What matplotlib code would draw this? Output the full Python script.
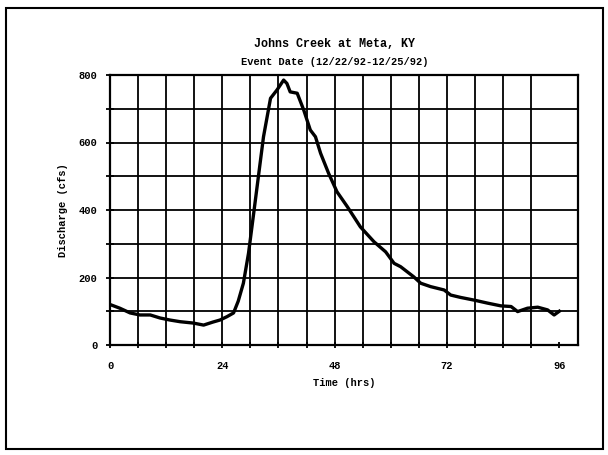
import matplotlib
matplotlib.use("Agg")
import matplotlib.pyplot as plt
from matplotlib.patches import Rectangle

# Hydrograph for Johns Creek at Meta, KY (event 12/22/92 - 12/25/92)
time_hrs = [0, 2.1, 4.3, 6.4, 8.6, 10.7, 12.8, 15.0, 17.8, 20.0, 22.0, 23.5,
            25.0, 26.4, 27.4, 28.5, 29.6, 30.7, 31.8, 32.8, 34.3, 35.7, 37.1,
            37.8, 38.5, 40.0, 41.4, 42.8, 43.9, 45.0, 46.7, 48.5, 50.7, 53.5,
            56.4, 58.9, 60.7, 62.1, 64.9, 66.4, 68.5, 71.4, 72.8, 74.9, 77.8,
            80.7, 83.5, 85.7, 87.1, 89.2, 91.4, 93.5, 94.9, 96.0]
discharge_cfs = [120, 109, 95, 89, 89, 80, 74, 69, 65, 59, 68, 74,
                 84, 95, 130, 183, 272, 390, 509, 617, 731, 756, 785,
                 775, 750, 746, 696, 637, 617, 568, 509, 454, 410, 350,
                 306, 276, 242, 232, 202, 183, 173, 163, 148, 141, 133,
                 124, 116, 114, 99, 109, 112, 104, 89, 100]

x_major = [0, 24, 48, 72, 96]
y_major = [0, 200, 400, 600, 800]

title = "Johns Creek at Meta, KY"
subtitle = "Event Date (12/22/92-12/25/92)"
xlabel = "Time (hrs)"
ylabel = "Discharge (cfs)"

W, H, DPI = 608, 455, 100
fig = plt.figure(figsize=(W / DPI, H / DPI), dpi=DPI)
fig.patch.set_facecolor("white")

font = dict(family=["Liberation Mono", "DejaVu Sans Mono"], weight="bold")

# axes placed in pixel coordinates
left, right, top, bottom = 110, 578, 75, 345
ax = fig.add_axes([left / W, 1 - bottom / H, (right - left) / W, (bottom - top) / H])

ax.plot(time_hrs, discharge_cfs, color="black", lw=2.4, solid_joinstyle="round")

ax.set_xlim(0, 100)
ax.set_ylim(0, 800)
ax.set_xticks(x_major)
ax.set_xticks(range(0, 97, 6), minor=True)
ax.set_yticks(y_major)
ax.set_yticks(range(0, 801, 100), minor=True)
ax.set_xticklabels([str(v) for v in x_major], fontsize=7.5, **font)
ax.set_yticklabels([str(v) for v in y_major], fontsize=7.5, **font)

# grid every 6 hours and every 100 cfs
for xv in range(6, 91, 6):
    ax.axvline(xv, color="black", lw=1.3, zorder=1)
for yv in range(100, 800, 100):
    ax.axhline(yv, color="black", lw=1.3, zorder=1)

for s in ax.spines.values():
    s.set_linewidth(1.6)
ax.tick_params(axis="both", which="both", direction="inout", width=1.3, color="black")
ax.tick_params(axis="x", which="both", length=5, pad=9)
ax.tick_params(axis="y", which="both", length=6, pad=6)

ax.set_xlabel(xlabel, fontsize=7.5, labelpad=5, **font)
ax.set_ylabel(ylabel, fontsize=7.5, labelpad=8, **font)

fig.text(335 / W, 1 - 44 / H, title, ha="center", va="center", fontsize=8.5, **font)
fig.text(335 / W, 1 - 62 / H, subtitle, ha="center", va="center", fontsize=7.5, **font)

# outer box around the figure
fig.patches.append(Rectangle((6 / W, 1 - 449 / H), 597 / W, 441 / H,
                             transform=fig.transFigure, fill=False,
                             edgecolor="black", lw=1.5))

fig.savefig("out.png", dpi=DPI, facecolor="white")
